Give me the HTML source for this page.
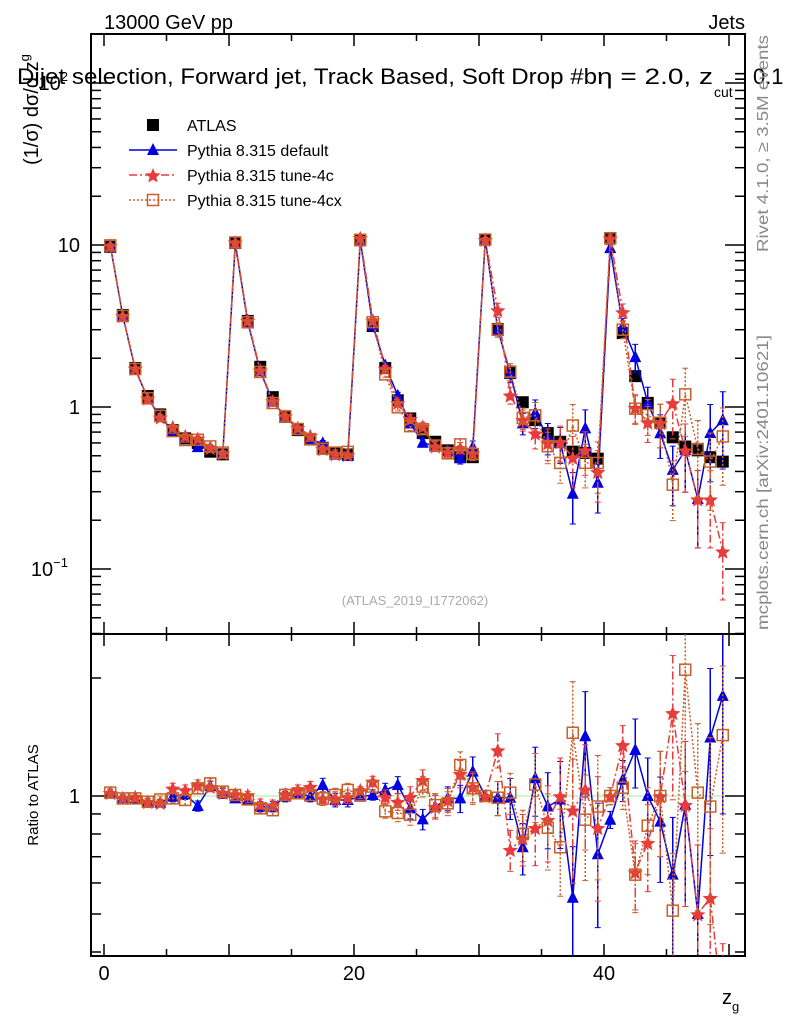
<!DOCTYPE html>
<html><head><meta charset="utf-8">
<style>
html,body{margin:0;background:#fff;width:786px;height:1024px;overflow:hidden;}
svg{display:block;font-family:"Liberation Sans",sans-serif;}
</style></head>
<body>
<svg id="chart" width="786" height="1024" viewBox="0 0 786 1024" xmlns="http://www.w3.org/2000/svg" overflow="hidden">
<text x="104" y="29" font-size="20">13000 GeV pp</text>
<text x="745" y="29" font-size="20" text-anchor="end">Jets</text>
<text x="17" y="84" font-size="22" textLength="580" lengthAdjust="spacingAndGlyphs">Dijet selection, Forward jet, Track Based, Soft Drop #b</text>
<text x="597" y="84" font-size="22" textLength="116" lengthAdjust="spacingAndGlyphs">η = 2.0, z</text>
<text x="714" y="97" font-size="14">cut</text>
<text x="734" y="84" font-size="22">= 0.1</text>
<text transform="translate(38,165) rotate(-90)" font-size="20">(1/σ) dσ/d z<tspan font-size="13" dy="-9">g</tspan></text>
<text transform="translate(38,795) rotate(-90)" font-size="15" text-anchor="middle">Ratio to ATLAS</text>
<text x="722" y="1004" font-size="20">z<tspan font-size="13" dy="7">g</tspan></text>
<text transform="translate(768,252) rotate(-90)" font-size="16" fill="#888" textLength="217" lengthAdjust="spacingAndGlyphs">Rivet 4.1.0, ≥ 3.5M events</text>
<text transform="translate(768,630) rotate(-90)" font-size="16" fill="#888" textLength="295" lengthAdjust="spacingAndGlyphs">mcplots.cern.ch [arXiv:2401.10621]</text>
<text x="415" y="605" font-size="13" fill="#aaa" text-anchor="middle">(ATLAS_2019_I1772062)</text>
<g id="plot"></g>
</svg>
<script>
const dataVals = [9.75,3.7,1.74,1.17,0.9,0.72,0.64,0.6,0.53,0.51,
 10.3,3.4,1.77,1.15,0.87,0.72,0.63,0.56,0.52,0.51,
 10.7,3.16,1.74,1.1,0.85,0.69,0.61,0.54,0.49,0.49,
 10.8,3.03,1.62,1.07,0.83,0.69,0.61,0.53,0.52,0.48,
 11,2.86,1.55,1.06,0.80,0.65,0.57,0.54,0.49,0.46];
const dataRelErr = [0.02,0.02,0.02,0.02,0.02,0.02,0.02,0.02,0.02,0.02,
 0.02,0.02,0.02,0.02,0.02,0.02,0.02,0.02,0.02,0.02,
 0.02,0.02,0.03,0.03,0.03,0.03,0.03,0.03,0.03,0.03,
 0.03,0.03,0.04,0.05,0.05,0.05,0.05,0.05,0.05,0.05,
 0.03,0.04,0.05,0.05,0.05,0.06,0.06,0.06,0.06,0.06];
const ratioDefault = [1.02,0.986,0.98,0.967,0.962,0.996,1.01,0.943,1.06,1.016,
 0.986,0.98,0.939,0.939,0.996,1.02,0.996,1.067,0.977,0.977,
 0.996,1.006,1.036,1.067,0.93,0.872,0.939,0.986,0.986,1.154,
 1.0,0.99,0.99,0.74,1.11,0.94,0.98,0.55,1.42,0.71,
 0.87,1.1,1.31,1.0,0.86,0.63,0.95,0.5,1.41,1.8];
const ratio4c = [1.02,0.99,0.996,0.967,0.962,1.046,1.036,1.067,1.057,1.02,
 1.012,1.006,0.954,0.948,1.012,1.036,1.057,0.986,0.986,0.996,
 1.036,1.09,0.996,0.967,0.996,1.1,0.939,0.977,1.14,1.057,
 1.0,1.31,0.73,0.78,0.83,0.87,1.0,0.92,1.04,0.83,
 1.0,1.35,0.64,0.76,1.0,1.63,0.95,0.5,0.55,0.28];
const ratio4cx = [1.02,0.986,0.986,0.967,0.98,0.986,0.977,1.046,1.077,1.026,
 1.006,0.98,0.93,0.92,1.006,1.016,1.006,0.986,1.006,1.036,
 1.006,1.057,0.914,0.905,0.896,1.057,0.948,0.958,1.2,1.046,
 1.0,0.99,1.02,0.80,1.07,0.83,0.74,1.45,0.87,0.94,
 1.0,1.05,0.63,0.84,1.0,0.51,2.1,1.02,0.94,1.43];
const mcRelErr = [0.02,0.02,0.02,0.02,0.02,0.03,0.03,0.03,0.03,0.03,
 0.02,0.02,0.03,0.03,0.03,0.03,0.03,0.04,0.04,0.04,
 0.02,0.03,0.04,0.05,0.06,0.06,0.07,0.07,0.08,0.09,
 0.03,0.1,0.12,0.15,0.2,0.22,0.25,0.35,0.3,0.35,
 0.05,0.12,0.2,0.25,0.3,0.4,0.45,0.5,0.5,0.5];
const xTicks = [0,20,40];

const NS="http://www.w3.org/2000/svg";
const g=document.getElementById('plot');
const L=91,R=745,T=34,MB=634,RB=956;
const X=v=>104+v*12.5;
const Y=v=>407-162*Math.log10(v);
const YR=v=>796-392*Math.log10(v);
function el(tag,attrs,parent){const e=document.createElementNS(NS,tag);for(const k in attrs)e.setAttribute(k,attrs[k]);(parent||g).appendChild(e);return e;}
const defs=el('defs',{});
const c1=el('clipPath',{id:'cm'},defs);el('rect',{x:L,y:T,width:R-L,height:MB-T},c1);
const c2=el('clipPath',{id:'cr'},defs);el('rect',{x:L,y:MB,width:R-L,height:RB-MB},c2);
const ref=el('line',{x1:L,x2:R,y1:YR(1),y2:YR(1),stroke:'#9e9',"stroke-width":1});


const f1=el('rect',{x:L,y:T,width:R-L,height:MB-T,fill:'none',stroke:'#000',"stroke-width":2});


const f2=el('rect',{x:L,y:MB,width:R-L,height:RB-MB,fill:'none',stroke:'#000',"stroke-width":2});


for(let v=0;v<=50;v+=5){const x=X(v);const len=(v%10===0)?12:7;
 [[T,1],[MB,-1],[MB,1],[RB,-1]].forEach(([y,d])=>{const t=el('line',{x1:x,x2:x,y1:y,y2:y+d*len,stroke:'#000',"stroke-width":1.5});
 
 });}
xTicks.forEach(v=>{const t=el('text',{x:X(v),y:980,"font-size":20,"text-anchor":"middle"});t.textContent=v;
 
 });
for(let d=-2;d<=2;d++){for(let m=1;m<=9;m++){const v=m*Math.pow(10,d);const y=Y(v);if(y<T||y>MB)continue;const len=m===1?20:10;
 [[L,1],[R,-1]].forEach(([x,s])=>{const t=el('line',{x1:x,x2:x+s*len,y1:y,y2:y,stroke:'#000',"stroke-width":1.5});
 
 });}}
[[0.1,'10','−1'],[1,'1',''],[10,'10',''],[100,'10','2']].forEach(([v,b,e])=>{const t=el('text',{x:80,y:Y(v)+7,"font-size":20,"text-anchor":"end"});
 t.innerHTML=b+(e?'<tspan font-size="13" dy="-9">'+e+'</tspan>':'');
 if(e)t.setAttribute('x',68);
 
 });
[0.4,0.5,0.6,0.7,0.8,0.9,1,2].forEach(v=>{const y=YR(v);const len=v===1?20:10;
 [[L,1],[R,-1]].forEach(([x,s])=>{const t=el('line',{x1:x,x2:x+s*len,y1:y,y2:y,stroke:'#000',"stroke-width":1.5});
 
 });});
{const t=el('text',{x:80,y:YR(1)+7,"font-size":20,"text-anchor":"end"});t.textContent='1';
 
 }

function star(cx,cy,r){let p=[];for(let i=0;i<10;i++){const a=-Math.PI/2+i*Math.PI/5;const rr=i%2?r*0.45:r;p.push((cx+rr*Math.cos(a)).toFixed(1)+','+(cy+rr*Math.sin(a)).toFixed(1));}return p.join(' ');}
function marker(kind,x,y,parent,color){
 let m;
 if(kind==='sq')m=el('rect',{x:x-6,y:y-6,width:12,height:12,fill:'#000'},parent);
 else if(kind==='tri')m=el('polygon',{points:`${x},${y-7} ${x-6},${y+5} ${x+6},${y+5}`,fill:color},parent);
 else if(kind==='star')m=el('polygon',{points:star(x,y+1,8),fill:color},parent);
 else m=el('rect',{x:x-5.5,y:y-5.5,width:11,height:11,fill:'none',stroke:color,"stroke-width":1.5},parent);
 return m;}
const series=[
 {name:'default',r:ratioDefault,color:'#0000e0',kind:'tri',dash:''},
 {name:'tune-4c',r:ratio4c,color:'#e83c3c',kind:'star',dash:'8,3,2,3'},
 {name:'tune-4cx',r:ratio4cx,color:'#c8602a',kind:'open',dash:'2,2'}];
const gm=el('g',{"clip-path":"url(#cm)"});
const gr=el('g',{"clip-path":"url(#cr)"});
dataVals.forEach((v,i)=>{const x=X(i+0.5);const e=v*dataRelErr[i];
 el('line',{x1:x,x2:x,y1:Y(v+e),y2:Y(v-e),stroke:'#000'},gm);
 const m=marker('sq',x,Y(v),gm);
 
 });
series.forEach(s=>{
 [[gm,i=>Y(dataVals[i]*s.r[i]),(i,f)=>Y(dataVals[i]*s.r[i]*f)],[gr,i=>YR(s.r[i]),(i,f)=>YR(s.r[i]*f)]].forEach(([par,fy,fe],pi)=>{
  const pts=s.r.map((r,i)=>X(i+0.5).toFixed(1)+','+fy(i).toFixed(1)).join(' ');
  const pl=el('polyline',{points:pts,fill:'none',stroke:s.color,"stroke-width":1.5,"stroke-dasharray":s.dash},par);
  
  
  s.r.forEach((r,i)=>{const x=X(i+0.5);const e=mcRelErr[i];
   el('line',{x1:x,x2:x,y1:fe(i,1+e),y2:fe(i,Math.max(1-e,0.05)),stroke:s.color,"stroke-width":1.5,"stroke-dasharray":s.dash},par);
   el('line',{x1:x-3,x2:x+3,y1:fe(i,1+e),y2:fe(i,1+e),stroke:s.color},par);
   el('line',{x1:x-3,x2:x+3,y1:fe(i,Math.max(1-e,0.05)),y2:fe(i,Math.max(1-e,0.05)),stroke:s.color},par);
   const m=marker(s.kind,x,fy(i),par,s.color);
   
   });
 });});
const lg=el('g',{});


const items=[['ATLAS','sq','#000',''],['Pythia 8.315 default','tri','#0000e0',''],['Pythia 8.315 tune-4c','star','#e83c3c','8,3,2,3'],['Pythia 8.315 tune-4cx','open','#c8602a','2,2']];
items.forEach((it,i)=>{const y=125+i*25;
 if(i>0)el('line',{x1:129,x2:177,y1:y,y2:y,stroke:it[2],"stroke-width":1.5,"stroke-dasharray":it[3]},lg);
 marker(it[1],153,y,lg,it[2]);
 const t=el('text',{x:187,y:y+6,"font-size":16},lg);t.textContent=it[0];
 
 });
</script>
</body></html>
